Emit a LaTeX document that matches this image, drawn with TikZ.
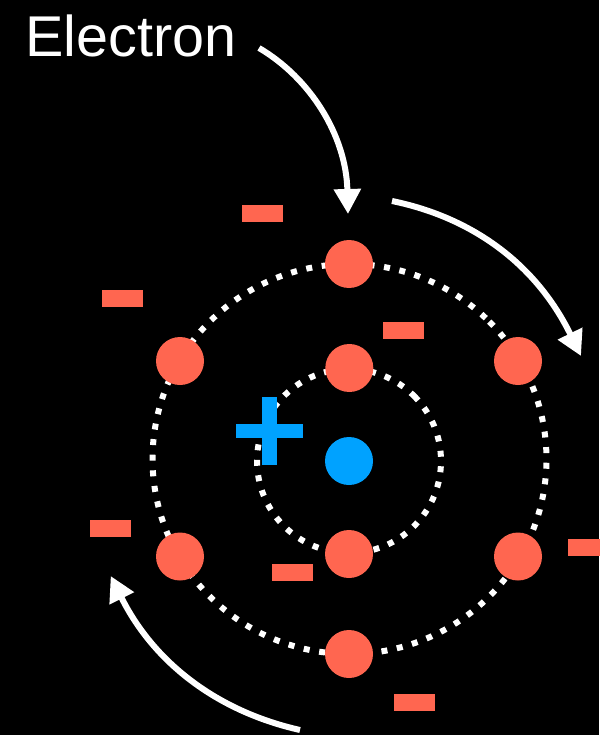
\documentclass[tikz,border=0pt]{standalone}
\usepackage{fontspec}
\setmainfont{Liberation Sans}
\usetikzlibrary{arrows.meta}
\definecolor{shellred}{HTML}{FF6650}
\definecolor{corblue}{HTML}{00A2FF}
\tikzset{
  orbit/.style={draw=white,line width=6pt},
  electron/.style={circle,fill=shellred,draw=none,minimum size=48pt,inner sep=0pt},
  nucleus/.style={circle,fill=corblue,draw=none,minimum size=48pt,inner sep=0pt},
  charge/.style={rectangle,fill=shellred,draw=none,minimum width=41pt,minimum height=17pt,inner sep=0pt},
  flow/.style={draw=white,line width=6pt,-{Triangle[length=25pt,width=26pt,fill=white]}},
  label/.style={text=white,font=\fontsize{57.5}{57.5}\selectfont,inner sep=0pt,anchor=base west}
}
\begin{document}
\begin{tikzpicture}[x=1pt,y=-1pt]
  \useasboundingbox[fill=black] (0,0) rectangle (599,735);

  % Electron shells, both starting at the upper right
  \draw[orbit,dash pattern=on 6pt off 9.65pt] (349.5,459) ++(44.8:197 and -195) arc[start angle=44.8,end angle=-315.2,x radius=197,y radius=-195];
  \draw[orbit,dash pattern=on 6pt off 9.5pt] (349,461) ++(45:92 and -92) arc[start angle=45,end angle=-315,x radius=92,y radius=-92];

  % Nucleus and its charge sign
  \node[nucleus] (core) at (349,461) {};
  \fill[corblue] (235.7,423.7) rectangle (303,438);
  \fill[corblue] (262.3,397.3) rectangle (276.7,464.7);

  % Electrons
  \node[electron] (outerN) at (349,264) {};
  \node[electron] (outerNW) at (180,361) {};
  \node[electron] (outerNE) at (518,361) {};
  \node[electron] (outerSW) at (180,556.5) {};
  \node[electron] (outerSE) at (518,556.5) {};
  \node[electron] (outerS) at (349,654) {};
  \node[electron] (innerN) at (349.3,368) {};
  \node[electron] (innerS) at (349,554) {};

  % Negative charges
  \node[charge] (minusA) at (262.5,213.5) {};
  \node[charge] (minusB) at (122.5,298.5) {};
  \node[charge] (minusC) at (403.5,330.5) {};
  \node[charge] (minusD) at (110.5,528.5) {};
  \node[charge] (minusE) at (292.5,572.5) {};
  \node[charge] (minusF) at (414.5,702.5) {};
  \node[charge] (minusG) at (588.5,547.5) {};

  % Label and arrows
  \node[label] (title) at (25,57) {Electron};
  \coordinate (a1s) at (259,48);
  \coordinate (a1e) at (348,214);
  \coordinate (a2s) at (392,201);
  \coordinate (a2e) at (581,356);
  \coordinate (a3s) at (300,730);
  \coordinate (a3e) at (110.7,576);
  \draw[flow] (a1s) .. controls (310,78) and (346,135) .. (a1e);
  \draw[flow] (a2s) .. controls (470,217) and (535,262) .. (a2e);
  \draw[flow] (a3s) .. controls (220,712) and (155,665) .. (a3e);
\end{tikzpicture}
\end{document}
